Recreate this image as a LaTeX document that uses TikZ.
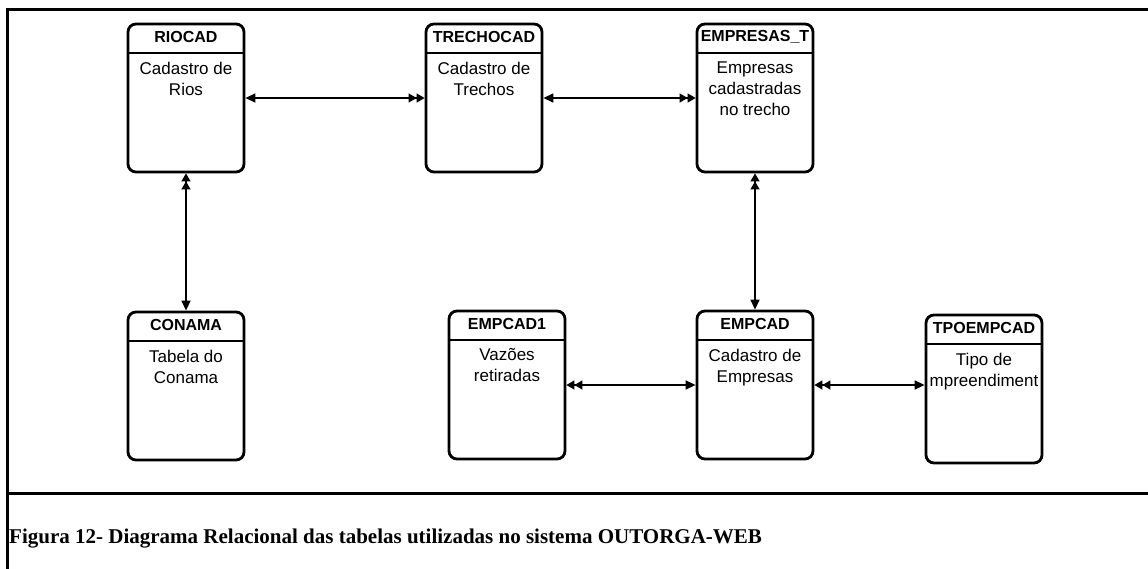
\documentclass[tikz,border=0pt]{standalone}
\usepackage{fontspec}
\setmainfont{Liberation Serif}
\newfontfamily\arialfont{Liberation Sans}
\usetikzlibrary{arrows.meta,positioning}

\tikzset{
    um/.tip={Triangle[length=10pt,width=9pt]},
    muitos/.tip={Triangle[length=8pt,width=9pt] Triangle[length=8pt,width=9pt]},
    tabela/.style={draw=black, line width=2.8pt, rounded corners=8pt,
        minimum width=116pt, minimum height=148pt, inner sep=0pt,
        path picture={\draw[line width=2.8pt]
            ([yshift=-29pt]path picture bounding box.north west) --
            ([yshift=-29pt]path picture bounding box.north east);}},
    titulo/.style={font=\arialfont\bfseries\fontsize{16}{18}\selectfont, inner sep=0pt},
    corpo/.style={font=\arialfont\fontsize{17}{21}\selectfont, align=center,
        inner sep=0pt, anchor=north},
    rel/.style={line width=1.4pt}
}

\begin{document}
\begin{tikzpicture}[x=1pt, y=-1pt]
        \useasboundingbox (0,0) rectangle (1148,569);

        % moldura
        \draw[line width=3pt] (7,569) -- (7,10) -- (1148,10);
        \draw[line width=3pt] (7,493) -- (1148,493);

        % tabelas
        \node[tabela, name=riocad] at (186,98) {};
        \node[titulo] at ([yshift=-14pt]riocad.north) {RIOCAD};
        \node[corpo] at ([yshift=-39pt]riocad.north) {Cadastro de\\Rios};

        \node[tabela, name=trechocad] at (484,98) {};
        \node[titulo] at ([yshift=-14pt]trechocad.north) {TRECHOCAD};
        \node[corpo] at ([yshift=-39pt]trechocad.north) {Cadastro de\\Trechos};

        \node[tabela, name=empresas] at (755,98) {};
        \node[titulo] at ([yshift=-14pt]empresas.north) {EMPRESAS\_T};
        \node[corpo] at ([yshift=-39pt]empresas.north) {Empresas\\cadastradas\\no trecho};

        \node[tabela, name=conama] at (186,386) {};
        \node[titulo] at ([yshift=-14pt]conama.north) {CONAMA};
        \node[corpo] at ([yshift=-39pt]conama.north) {Tabela do\\Conama};

        \node[tabela, name=empcad1] at (507,385) {};
        \node[titulo] at ([yshift=-14pt]empcad1.north) {EMPCAD1};
        \node[corpo] at ([yshift=-39pt]empcad1.north) {Vazões\\retiradas};

        \node[tabela, name=empcad] at (755,385) {};
        \node[titulo] at ([yshift=-14pt]empcad.north) {EMPCAD};
        \node[corpo] at ([yshift=-39pt]empcad.north) {Cadastro de\\Empresas};

        \node[tabela, name=tpoempcad] at (984,389) {};
        \node[titulo] at ([yshift=-14pt]tpoempcad.north) {TPOEMPCAD};
        \node[corpo] at ([yshift=-39pt]tpoempcad.north) {Tipo de\\mpreendiment};

        % relacionamentos
        \path[rel]
            (riocad) edge[um-muitos] (trechocad)
            (trechocad) edge[um-muitos] (empresas)
            (conama) edge[um-muitos] (riocad)
            (empcad) edge[um-muitos] (empresas)
            (empcad) edge[um-muitos] (empcad1)
            (tpoempcad.west |- empcad.east) edge[um-muitos] (empcad);

        \node[anchor=west, inner sep=0pt, font=\bfseries\fontsize{21}{24}\selectfont, name=legenda]
            at (9,539) {Figura 12- Diagrama Relacional das tabelas utilizadas no sistema OUTORGA-WEB};
\end{tikzpicture}
\end{document}
